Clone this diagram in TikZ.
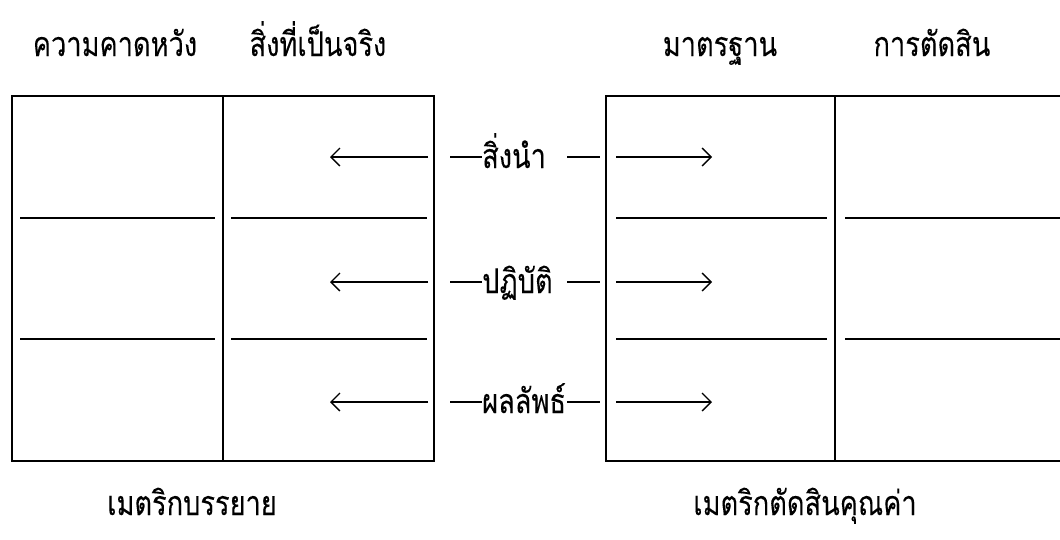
\documentclass[tikz,border=0pt]{standalone}
\usepackage{fontspec}
\newfontfamily\thaifont[Script=Thai,FakeStretch=0.8,FakeBold=0.1]{Loma}
\usetikzlibrary{arrows.meta}

\begin{document}
\begin{tikzpicture}[x=1pt,y=-1pt,
    every node/.style={font=\thaifont\fontsize{34}{38}\selectfont,inner sep=0pt},
    metric/.style={draw,line width=1.8pt,minimum height=365pt},
    rowline/.style={line width=1.4pt},
    flow/.style={line width=1.3pt,-{Straight Barb[length=9pt,width=18pt]}}]
    \useasboundingbox (0,0) rectangle (1060,539);
    \node[metric,minimum width=422pt] (desc) at (223,278.5) {};
    \node[metric,minimum width=458pt] (judge) at (835,278.5) {};
    \draw[line width=1.8pt] (desc.north) -- (desc.south);
    \draw[line width=1.8pt] (judge.north) -- (judge.south);

    \foreach \y in {218,339}{
        \draw[rowline] (20,\y) -- (215,\y);
        \draw[rowline] (231,\y) -- (427,\y);
        \draw[rowline] (616,\y) -- (827,\y);
        \draw[rowline] (845,\y) -- (1060,\y);
    }

    \node[anchor=base] (expect) at (115,56) {ความคาดหวัง};
    \node[anchor=base] (actual) at (318,56) {สิ่งที่เป็นจริง};
    \node[anchor=base] (standard) at (720,56) {มาตรฐาน};
    \node[anchor=base] (verdict) at (932,56) {การตัดสิน};
    \node[anchor=base] (descname) at (192,515) {เมตริกบรรยาย};
    \node[anchor=base] (judgename) at (805,515) {เมตริกตัดสินคุณค่า};

    \foreach \y/\txt [count=\i] in {157/สิ่งนำ,282/ปฏิบัติ,402/ผลลัพธ์}{
        \node[anchor=base west] (lbl\i) at (482,\y+11) {\txt};
        \coordinate (dl\i) at (450,\y);
        \coordinate (dr\i) at (567,\y);
        \draw[line width=1.3pt] (dl\i) -- (dl\i -| lbl\i.west);
        \draw[line width=1.3pt] (dr\i) -- ++(33,0);
        \coordinate (ls\i) at (428,\y);
        \coordinate (le\i) at (330,\y);
        \coordinate (rs\i) at (616,\y);
        \coordinate (re\i) at (712,\y);
        \draw[flow] (ls\i) -- (le\i);
        \draw[flow] (rs\i) -- (re\i);
    }
\end{tikzpicture}
\end{document}
